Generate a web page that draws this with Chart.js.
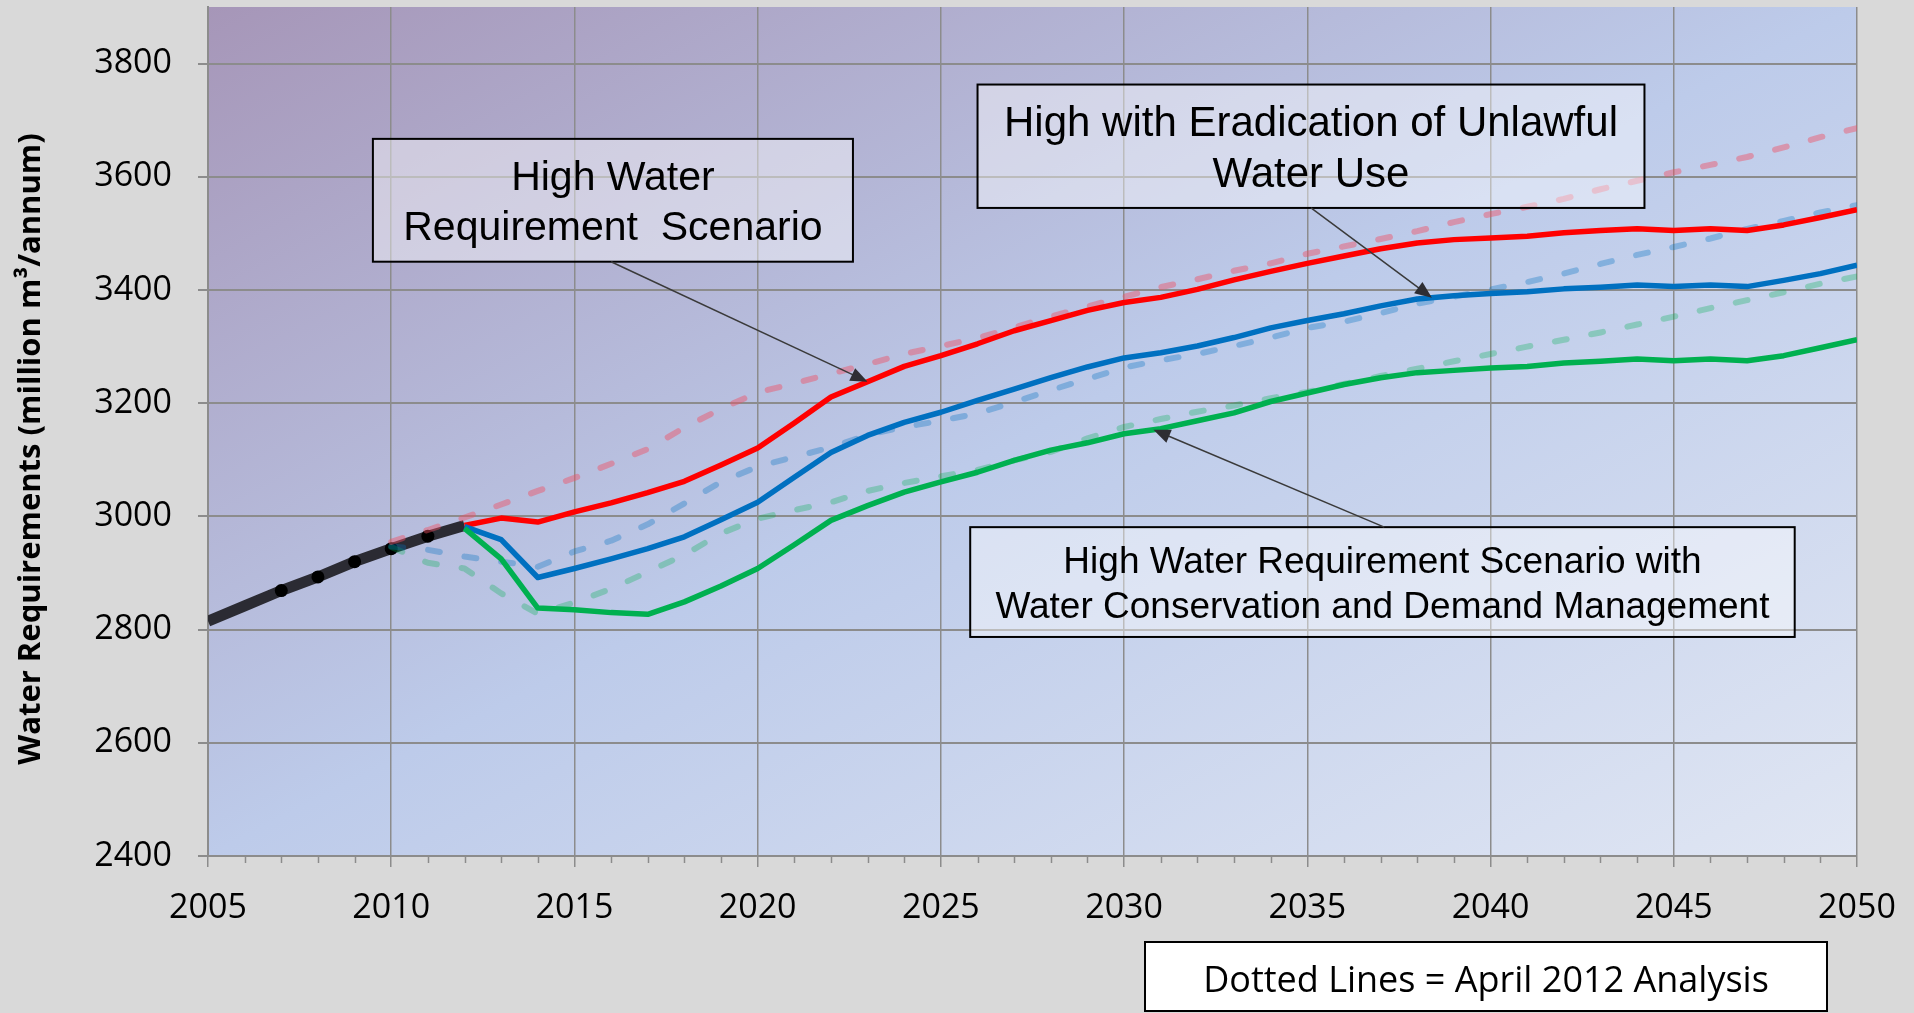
<!DOCTYPE html>
<html>
<head>
<meta charset="utf-8">
<title>Water Requirements</title>
<script src="https://cdn.jsdelivr.net/npm/chart.js@4.4.1/dist/chart.umd.min.js"></script>
<style>
  html, body { margin: 0; padding: 0; background: #d9d9d9; }
  #wrap { width: 1914px; height: 1013px; }
</style>
</head>
<body>
<div id="wrap"><canvas id="waterChart" width="1914" height="1013"></canvas></div>
<script>
// historic requirement, million m3/annum
const histYears = [2005, 2006, 2007, 2008, 2009, 2010, 2011, 2012];
const histValues = [2815, 2842, 2869, 2893, 2920, 2943, 2965, 2984];
const histDotYears = [2007, 2008, 2009, 2010, 2011];

// current scenarios (solid lines)
const scenarioYears = [
  2012, 2013, 2014, 2015, 2016, 2017, 2018, 2019, 2020, 2021,
  2022, 2023, 2024, 2025, 2026, 2027, 2028, 2029, 2030, 2031,
  2032, 2033, 2034, 2035, 2036, 2037, 2038, 2039, 2040, 2041,
  2042, 2043, 2044, 2045, 2046, 2047, 2048, 2049, 2050
];
const highValues = [
  2984, 2997, 2990, 3008, 3024, 3042, 3062, 3091, 3121, 3165,
  3211, 3238, 3265, 3284, 3305, 3328, 3346, 3364, 3378, 3387,
  3401, 3418, 3433, 3447, 3460, 3473, 3483, 3489, 3492, 3495,
  3501, 3505, 3508, 3505, 3508, 3505, 3515, 3528, 3542
];
const unlawfulValues = [
  2982, 2959, 2892, 2908, 2925, 2943, 2964, 2994, 3025, 3069,
  3113, 3143, 3166, 3184, 3205, 3225, 3245, 3264, 3280, 3289,
  3301, 3316, 3333, 3346, 3358, 3372, 3384, 3390, 3394, 3397,
  3402, 3405, 3409, 3406, 3409, 3406, 3417, 3429, 3444
];
const wcdmValues = [
  2979, 2925, 2838, 2835, 2830, 2827, 2849, 2877, 2908, 2950,
  2993, 3019, 3043, 3061, 3078, 3099, 3117, 3130, 3146, 3155,
  3169, 3183, 3203, 3218, 3233, 3245, 3254, 3258, 3262, 3265,
  3271, 3274, 3278, 3275, 3278, 3275, 3284, 3298, 3312
];

// April 2012 analysis (dashed lines)
const aprilYears = [
  2010, 2011, 2012, 2013, 2014, 2015, 2016, 2017, 2018, 2019,
  2020, 2021, 2022, 2023, 2024, 2025, 2026, 2027, 2028, 2029,
  2030, 2031, 2032, 2033, 2034, 2035, 2036, 2037, 2038, 2039,
  2040, 2041, 2042, 2043, 2044, 2045, 2046, 2047, 2048, 2049, 2050
];
const aprilHigh = [
  2955, 2976, 2998, 3021, 3045, 3068, 3093, 3119, 3157, 3190,
  3219, 3235, 3252, 3269, 3287, 3301, 3315, 3334, 3353, 3371,
  3388, 3405, 3419, 3434, 3447, 3464, 3477, 3490, 3504, 3520,
  3534, 3547, 3561, 3578, 3593, 3608, 3621, 3635, 3652, 3670, 3686
];
const aprilUnlawful = [
  2947, 2941, 2929, 2920, 2911, 2938, 2957, 2986, 3023, 3061,
  3088, 3105, 3122, 3144, 3158, 3169, 3182, 3202, 3223, 3243,
  3263, 3276, 3287, 3301, 3316, 3333, 3344, 3359, 3376, 3388,
  3401, 3414, 3429, 3446, 3462, 3476, 3491, 3508, 3522, 3537, 3550
];
const aprilWcdm = [
  2946, 2918, 2908, 2864, 2828, 2848, 2872, 2902, 2932, 2970,
  2996, 3011, 3025, 3045, 3059, 3071, 3082, 3099, 3114, 3138,
  3158, 3172, 3185, 3196, 3209, 3220, 3234, 3248, 3261, 3274,
  3287, 3300, 3312, 3325, 3339, 3353, 3368, 3382, 3396, 3411, 3424
];

const yTickValues = [2400, 2600, 2800, 3000, 3200, 3400, 3600, 3800];
const yTitle = "Water Requirements (million m³/annum)";

const GRID = "#8c8c8c";
const AXIS_FONT = "'Open Sans', 'DejaVu Sans', sans-serif";
const BOX_FONT = "'Liberation Sans', Arial, sans-serif";

function toPoints(xs, ys) {
  return xs.map((x, i) => ({ x: x, y: ys[i] }));
}

function valueAt(xs, ys, x) {
  for (let i = 0; i < xs.length - 1; i++) {
    if (x >= xs[i] && x <= xs[i + 1]) {
      const t = (x - xs[i]) / (xs[i + 1] - xs[i]);
      return ys[i] + t * (ys[i + 1] - ys[i]);
    }
  }
  return ys[ys.length - 1];
}

// callout boxes: box = [xMin, yMax, xMax, yMin] in axis units
const callouts = [
  {
    lines: ["High Water", "Requirement  Scenario"],
    size: 41,
    box: [2009.5, 3667, 2022.6, 3450],
    from: [2016.0, 3450],
    to: { year: 2023, xs: scenarioYears, ys: highValues }
  },
  {
    lines: ["High with Eradication of Unlawful", "Water Use"],
    size: 42,
    box: [2026.0, 3763, 2044.2, 3545],
    from: [2035.1, 3545],
    to: { year: 2038.4, xs: scenarioYears, ys: unlawfulValues }
  },
  {
    lines: ["High Water Requirement Scenario with", "Water Conservation and Demand Management"],
    size: 37,
    box: [2025.8, 2981, 2048.3, 2787],
    from: [2037.1, 2981],
    to: { year: 2030.8, xs: scenarioYears, ys: wcdmValues }
  }
];

// fondo degradado del área del gráfico
const plotBackground = {
  id: "plotBackground",
  beforeDraw(chart) {
    const { ctx, chartArea: a } = chart;
    ctx.save();
    ctx.fillStyle = "#d9d9d9";
    ctx.fillRect(0, 0, chart.width, chart.height);
    const W = a.right - a.left;
    const H = a.bottom - a.top;
    const s = (2 * W * H) / (W * W + H * H);
    const g = ctx.createLinearGradient(a.left, a.top, a.left + H * s, a.top + W * s);
    g.addColorStop(0, "#a696b8");
    g.addColorStop(0.5, "#bdcbea");
    g.addColorStop(1, "#e0e6f3");
    ctx.fillStyle = g;
    ctx.fillRect(a.left, a.top, W, H);
    ctx.restore();
  }
};

function drawArrow(ctx, x0, y0, x1, y1) {
  const ang = Math.atan2(y1 - y0, x1 - x0);
  const len = 17, half = 7;
  ctx.strokeStyle = "#3a3a3a";
  ctx.lineWidth = 1.5;
  ctx.beginPath();
  ctx.moveTo(x0, y0);
  ctx.lineTo(x1 - Math.cos(ang) * len * 0.8, y1 - Math.sin(ang) * len * 0.8);
  ctx.stroke();
  ctx.fillStyle = "#2e2e33";
  ctx.beginPath();
  ctx.moveTo(x1, y1);
  ctx.lineTo(x1 - Math.cos(ang) * len - Math.sin(ang) * half, y1 - Math.sin(ang) * len + Math.cos(ang) * half);
  ctx.lineTo(x1 - Math.cos(ang) * len + Math.sin(ang) * half, y1 - Math.sin(ang) * len - Math.cos(ang) * half);
  ctx.closePath();
  ctx.fill();
}

// cajas de texto con flecha
const calloutPlugin = {
  id: "callouts",
  afterDatasetsDraw(chart) {
    const { ctx, scales: { x, y } } = chart;
    ctx.save();
    callouts.forEach((c) => {
      const left = x.getPixelForValue(c.box[0]);
      const top = y.getPixelForValue(c.box[1]);
      const right = x.getPixelForValue(c.box[2]);
      const bottom = y.getPixelForValue(c.box[3]);
      ctx.fillStyle = "rgba(255,255,255,0.42)";
      ctx.fillRect(left, top, right - left, bottom - top);
      ctx.strokeStyle = "#000";
      ctx.lineWidth = 2;
      ctx.strokeRect(left, top, right - left, bottom - top);

      ctx.fillStyle = "#000";
      ctx.font = c.size + "px " + BOX_FONT;
      ctx.textAlign = "center";
      ctx.textBaseline = "alphabetic";
      const gap = c.size * 1.2;
      const h = bottom - top;
      let base = top + (h - (c.lines.length - 1) * gap) / 2 + c.size * 0.36;
      c.lines.forEach((line) => {
        ctx.fillText(line, (left + right) / 2, base);
        base += gap;
      });

      const tipVal = valueAt(c.to.xs, c.to.ys, c.to.year);
      drawArrow(
        ctx,
        x.getPixelForValue(c.from[0]), y.getPixelForValue(c.from[1]),
        x.getPixelForValue(c.to.year), y.getPixelForValue(tipVal)
      );
    });
    ctx.restore();
  },
  afterDraw(chart) {
    const { ctx, scales: { x } } = chart;
    ctx.save();
    // marcas menores del eje x, una por año
    ctx.strokeStyle = GRID;
    ctx.lineWidth = 1.5;
    for (let yr = 2005; yr <= 2050; yr++) {
      if (yr % 5 === 0) continue;
      const px = Math.round(x.getPixelForValue(yr)) + 0.5;
      ctx.beginPath();
      ctx.moveTo(px, x.top);
      ctx.lineTo(px, x.top + 7);
      ctx.stroke();
    }
    // título del eje y
    ctx.save();
    ctx.translate(31, 449);
    ctx.rotate(-Math.PI / 2);
    ctx.fillStyle = "#000";
    ctx.font = "bold 31px " + AXIS_FONT;
    ctx.textAlign = "center";
    ctx.textBaseline = "middle";
    ctx.fillText(yTitle, 0, 0);
    ctx.restore();
    // nota inferior
    const nx = 1145, ny = 942, nw = 682, nh = 69;
    ctx.fillStyle = "#fff";
    ctx.fillRect(nx, ny, nw, nh);
    ctx.strokeStyle = "#000";
    ctx.lineWidth = 2;
    ctx.strokeRect(nx, ny, nw, nh);
    ctx.fillStyle = "#000";
    ctx.font = "36px " + AXIS_FONT;
    ctx.textAlign = "center";
    ctx.textBaseline = "alphabetic";
    ctx.fillText("Dotted Lines = April 2012 Analysis", nx + nw / 2, 992);
    ctx.restore();
  }
};

const dashedLine = {
  borderWidth: 6,
  borderDash: [12, 25],
  borderCapStyle: "round",
  borderJoinStyle: "round",
  pointRadius: 0,
  tension: 0,
  order: 4
};
const solidLine = {
  borderWidth: 5.5,
  borderJoinStyle: "round",
  pointRadius: 0,
  tension: 0
};

const chart = new Chart(document.getElementById("waterChart"), {
  type: "line",
  data: {
    datasets: [
      {
        label: "Historic",
        data: toPoints(histYears, histValues),
        borderColor: "#2b2b33",
        borderWidth: 11,
        borderCapStyle: "butt",
        tension: 0,
        pointRadius: (ctx) => (histDotYears.includes(histYears[ctx.dataIndex]) ? 6.5 : 0),
        pointBackgroundColor: "#000",
        pointBorderWidth: 0,
        order: 5
      },
      Object.assign({ label: "High (April 2012)", data: toPoints(aprilYears, aprilHigh), borderColor: "rgba(240,80,100,0.45)" }, dashedLine),
      Object.assign({ label: "Unlawful (April 2012)", data: toPoints(aprilYears, aprilUnlawful), borderColor: "rgba(0,112,192,0.32)" }, dashedLine),
      Object.assign({ label: "WC/DM (April 2012)", data: toPoints(aprilYears, aprilWcdm), borderColor: "rgba(0,176,80,0.3)" }, dashedLine),
      Object.assign({ label: "High Water Requirement Scenario", data: toPoints(scenarioYears, highValues), borderColor: "#ff0000", order: 3 }, solidLine),
      Object.assign({ label: "High with Eradication of Unlawful Water Use", data: toPoints(scenarioYears, unlawfulValues), borderColor: "#0070c0", order: 2 }, solidLine),
      Object.assign({ label: "High with WC/DM", data: toPoints(scenarioYears, wcdmValues), borderColor: "#00b050", order: 1 }, solidLine)
    ]
  },
  options: {
    responsive: false,
    devicePixelRatio: 1,
    animation: false,
    layout: { padding: { top: 7, right: 57, left: 0, bottom: 0 } },
    plugins: {
      legend: { display: false },
      tooltip: { enabled: false }
    },
    scales: {
      x: {
        type: "linear",
        min: 2005,
        max: 2050,
        afterFit: (s) => {
          s.height = 157;
          s.paddingLeft = 0;
          s.paddingRight = 0;
        },
        ticks: {
          stepSize: 1,
          autoSkip: false,
          maxRotation: 0,
          padding: 21,
          color: "#000",
          font: { family: AXIS_FONT, size: 34 },
          callback: (v) => (v % 5 === 0 ? String(v) : "")
        },
        grid: {
          color: (ctx) => (ctx.tick && ctx.tick.value % 5 === 0 ? GRID : "rgba(0,0,0,0)"),
          tickColor: (ctx) => (ctx.tick && ctx.tick.value % 5 === 0 ? GRID : "rgba(0,0,0,0)"),
          lineWidth: 1.5,
          tickLength: 11
        },
        border: { color: GRID, width: 2 }
      },
      y: {
        min: 2400,
        max: 3900,
        afterFit: (s) => {
          s.width = 208;
          s.paddingTop = 0;
          s.paddingBottom = 0;
        },
        afterBuildTicks: (s) => { s.ticks = yTickValues.map((v) => ({ value: v })); },
        ticks: {
          padding: 26,
          color: "#000",
          font: { family: AXIS_FONT, size: 34 },
          callback: (v) => String(v)
        },
        grid: { color: GRID, lineWidth: 2, tickLength: 10, tickColor: GRID },
        border: { color: GRID, width: 2 }
      }
    }
  },
  plugins: [plotBackground, calloutPlugin]
});
</script>
</body>
</html>
